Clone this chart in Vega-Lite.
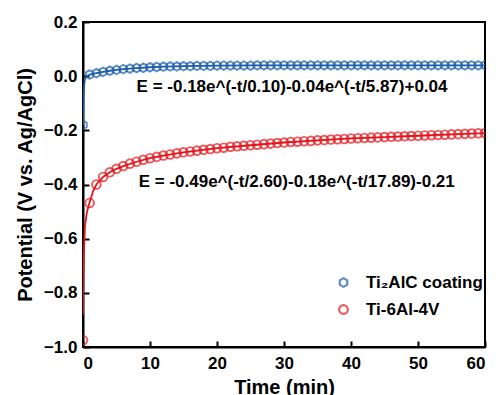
{
  "$schema": "https://vega.github.io/schema/vega-lite/v6.json",
  "autosize": "none",
  "width": 402,
  "height": 325,
  "padding": {"left": 83, "top": 22, "right": 11, "bottom": 48},
  "background": "white",
  "config": {
    "view": {"stroke": "black", "strokeWidth": 2},
    "font": "Liberation Sans"
  },
  "datasets": {
    "markers": [
      {"t": 0, "E": -0.18, "series": "Ti₂AlC coating"},
      {"t": 1, "E": 0.006, "series": "Ti₂AlC coating"},
      {"t": 2, "E": 0.011, "series": "Ti₂AlC coating"},
      {"t": 3, "E": 0.016, "series": "Ti₂AlC coating"},
      {"t": 4, "E": 0.020, "series": "Ti₂AlC coating"},
      {"t": 5, "E": 0.023, "series": "Ti₂AlC coating"},
      {"t": 6, "E": 0.026, "series": "Ti₂AlC coating"},
      {"t": 7, "E": 0.028, "series": "Ti₂AlC coating"},
      {"t": 8, "E": 0.030, "series": "Ti₂AlC coating"},
      {"t": 9, "E": 0.031, "series": "Ti₂AlC coating"},
      {"t": 10, "E": 0.033, "series": "Ti₂AlC coating"},
      {"t": 11, "E": 0.034, "series": "Ti₂AlC coating"},
      {"t": 12, "E": 0.035, "series": "Ti₂AlC coating"},
      {"t": 13, "E": 0.036, "series": "Ti₂AlC coating"},
      {"t": 14, "E": 0.036, "series": "Ti₂AlC coating"},
      {"t": 15, "E": 0.037, "series": "Ti₂AlC coating"},
      {"t": 16, "E": 0.037, "series": "Ti₂AlC coating"},
      {"t": 17, "E": 0.038, "series": "Ti₂AlC coating"},
      {"t": 18, "E": 0.038, "series": "Ti₂AlC coating"},
      {"t": 19, "E": 0.038, "series": "Ti₂AlC coating"},
      {"t": 20, "E": 0.039, "series": "Ti₂AlC coating"},
      {"t": 21, "E": 0.039, "series": "Ti₂AlC coating"},
      {"t": 22, "E": 0.039, "series": "Ti₂AlC coating"},
      {"t": 23, "E": 0.039, "series": "Ti₂AlC coating"},
      {"t": 24, "E": 0.039, "series": "Ti₂AlC coating"},
      {"t": 25, "E": 0.039, "series": "Ti₂AlC coating"},
      {"t": 26, "E": 0.040, "series": "Ti₂AlC coating"},
      {"t": 27, "E": 0.040, "series": "Ti₂AlC coating"},
      {"t": 28, "E": 0.040, "series": "Ti₂AlC coating"},
      {"t": 29, "E": 0.040, "series": "Ti₂AlC coating"},
      {"t": 30, "E": 0.040, "series": "Ti₂AlC coating"},
      {"t": 31, "E": 0.040, "series": "Ti₂AlC coating"},
      {"t": 32, "E": 0.040, "series": "Ti₂AlC coating"},
      {"t": 33, "E": 0.040, "series": "Ti₂AlC coating"},
      {"t": 34, "E": 0.040, "series": "Ti₂AlC coating"},
      {"t": 35, "E": 0.040, "series": "Ti₂AlC coating"},
      {"t": 36, "E": 0.040, "series": "Ti₂AlC coating"},
      {"t": 37, "E": 0.040, "series": "Ti₂AlC coating"},
      {"t": 38, "E": 0.040, "series": "Ti₂AlC coating"},
      {"t": 39, "E": 0.040, "series": "Ti₂AlC coating"},
      {"t": 40, "E": 0.040, "series": "Ti₂AlC coating"},
      {"t": 41, "E": 0.040, "series": "Ti₂AlC coating"},
      {"t": 42, "E": 0.040, "series": "Ti₂AlC coating"},
      {"t": 43, "E": 0.040, "series": "Ti₂AlC coating"},
      {"t": 44, "E": 0.040, "series": "Ti₂AlC coating"},
      {"t": 45, "E": 0.040, "series": "Ti₂AlC coating"},
      {"t": 46, "E": 0.040, "series": "Ti₂AlC coating"},
      {"t": 47, "E": 0.040, "series": "Ti₂AlC coating"},
      {"t": 48, "E": 0.040, "series": "Ti₂AlC coating"},
      {"t": 49, "E": 0.040, "series": "Ti₂AlC coating"},
      {"t": 50, "E": 0.040, "series": "Ti₂AlC coating"},
      {"t": 51, "E": 0.040, "series": "Ti₂AlC coating"},
      {"t": 52, "E": 0.040, "series": "Ti₂AlC coating"},
      {"t": 53, "E": 0.040, "series": "Ti₂AlC coating"},
      {"t": 54, "E": 0.040, "series": "Ti₂AlC coating"},
      {"t": 55, "E": 0.040, "series": "Ti₂AlC coating"},
      {"t": 56, "E": 0.040, "series": "Ti₂AlC coating"},
      {"t": 57, "E": 0.040, "series": "Ti₂AlC coating"},
      {"t": 58, "E": 0.040, "series": "Ti₂AlC coating"},
      {"t": 59, "E": 0.040, "series": "Ti₂AlC coating"},
      {"t": 60, "E": 0.040, "series": "Ti₂AlC coating"},
      {"t": 0, "E": -0.975, "series": "Ti-6Al-4V"},
      {"t": 1, "E": -0.468, "series": "Ti-6Al-4V"},
      {"t": 2, "E": -0.400, "series": "Ti-6Al-4V"},
      {"t": 3, "E": -0.372, "series": "Ti-6Al-4V"},
      {"t": 4, "E": -0.355, "series": "Ti-6Al-4V"},
      {"t": 5, "E": -0.342, "series": "Ti-6Al-4V"},
      {"t": 6, "E": -0.332, "series": "Ti-6Al-4V"},
      {"t": 7, "E": -0.323, "series": "Ti-6Al-4V"},
      {"t": 8, "E": -0.316, "series": "Ti-6Al-4V"},
      {"t": 9, "E": -0.309, "series": "Ti-6Al-4V"},
      {"t": 10, "E": -0.303, "series": "Ti-6Al-4V"},
      {"t": 11, "E": -0.298, "series": "Ti-6Al-4V"},
      {"t": 12, "E": -0.293, "series": "Ti-6Al-4V"},
      {"t": 13, "E": -0.289, "series": "Ti-6Al-4V"},
      {"t": 14, "E": -0.285, "series": "Ti-6Al-4V"},
      {"t": 15, "E": -0.281, "series": "Ti-6Al-4V"},
      {"t": 16, "E": -0.278, "series": "Ti-6Al-4V"},
      {"t": 17, "E": -0.275, "series": "Ti-6Al-4V"},
      {"t": 18, "E": -0.272, "series": "Ti-6Al-4V"},
      {"t": 19, "E": -0.269, "series": "Ti-6Al-4V"},
      {"t": 20, "E": -0.266, "series": "Ti-6Al-4V"},
      {"t": 21, "E": -0.264, "series": "Ti-6Al-4V"},
      {"t": 22, "E": -0.261, "series": "Ti-6Al-4V"},
      {"t": 23, "E": -0.259, "series": "Ti-6Al-4V"},
      {"t": 24, "E": -0.257, "series": "Ti-6Al-4V"},
      {"t": 25, "E": -0.255, "series": "Ti-6Al-4V"},
      {"t": 26, "E": -0.253, "series": "Ti-6Al-4V"},
      {"t": 27, "E": -0.251, "series": "Ti-6Al-4V"},
      {"t": 28, "E": -0.249, "series": "Ti-6Al-4V"},
      {"t": 29, "E": -0.247, "series": "Ti-6Al-4V"},
      {"t": 30, "E": -0.245, "series": "Ti-6Al-4V"},
      {"t": 31, "E": -0.243, "series": "Ti-6Al-4V"},
      {"t": 32, "E": -0.242, "series": "Ti-6Al-4V"},
      {"t": 33, "E": -0.240, "series": "Ti-6Al-4V"},
      {"t": 34, "E": -0.239, "series": "Ti-6Al-4V"},
      {"t": 35, "E": -0.237, "series": "Ti-6Al-4V"},
      {"t": 36, "E": -0.236, "series": "Ti-6Al-4V"},
      {"t": 37, "E": -0.234, "series": "Ti-6Al-4V"},
      {"t": 38, "E": -0.233, "series": "Ti-6Al-4V"},
      {"t": 39, "E": -0.232, "series": "Ti-6Al-4V"},
      {"t": 40, "E": -0.230, "series": "Ti-6Al-4V"},
      {"t": 41, "E": -0.229, "series": "Ti-6Al-4V"},
      {"t": 42, "E": -0.228, "series": "Ti-6Al-4V"},
      {"t": 43, "E": -0.227, "series": "Ti-6Al-4V"},
      {"t": 44, "E": -0.226, "series": "Ti-6Al-4V"},
      {"t": 45, "E": -0.225, "series": "Ti-6Al-4V"},
      {"t": 46, "E": -0.224, "series": "Ti-6Al-4V"},
      {"t": 47, "E": -0.223, "series": "Ti-6Al-4V"},
      {"t": 48, "E": -0.222, "series": "Ti-6Al-4V"},
      {"t": 49, "E": -0.221, "series": "Ti-6Al-4V"},
      {"t": 50, "E": -0.220, "series": "Ti-6Al-4V"},
      {"t": 51, "E": -0.219, "series": "Ti-6Al-4V"},
      {"t": 52, "E": -0.218, "series": "Ti-6Al-4V"},
      {"t": 53, "E": -0.217, "series": "Ti-6Al-4V"},
      {"t": 54, "E": -0.216, "series": "Ti-6Al-4V"},
      {"t": 55, "E": -0.215, "series": "Ti-6Al-4V"},
      {"t": 56, "E": -0.214, "series": "Ti-6Al-4V"},
      {"t": 57, "E": -0.213, "series": "Ti-6Al-4V"},
      {"t": 58, "E": -0.212, "series": "Ti-6Al-4V"},
      {"t": 59, "E": -0.211, "series": "Ti-6Al-4V"},
      {"t": 60, "E": -0.210, "series": "Ti-6Al-4V"}
    ],
    "fits": [
      {"t": 0, "E": -0.18, "series": "Ti₂AlC coating"},
      {"t": 0.05, "E": -0.105, "series": "Ti₂AlC coating"},
      {"t": 0.1, "E": -0.066, "series": "Ti₂AlC coating"},
      {"t": 0.2, "E": -0.027, "series": "Ti₂AlC coating"},
      {"t": 0.3, "E": -0.011, "series": "Ti₂AlC coating"},
      {"t": 0.5, "E": -0.001, "series": "Ti₂AlC coating"},
      {"t": 1, "E": 0.006, "series": "Ti₂AlC coating"},
      {"t": 2, "E": 0.011, "series": "Ti₂AlC coating"},
      {"t": 3, "E": 0.016, "series": "Ti₂AlC coating"},
      {"t": 4, "E": 0.020, "series": "Ti₂AlC coating"},
      {"t": 5, "E": 0.023, "series": "Ti₂AlC coating"},
      {"t": 6, "E": 0.026, "series": "Ti₂AlC coating"},
      {"t": 8, "E": 0.030, "series": "Ti₂AlC coating"},
      {"t": 10, "E": 0.033, "series": "Ti₂AlC coating"},
      {"t": 12, "E": 0.035, "series": "Ti₂AlC coating"},
      {"t": 15, "E": 0.037, "series": "Ti₂AlC coating"},
      {"t": 20, "E": 0.039, "series": "Ti₂AlC coating"},
      {"t": 25, "E": 0.0395, "series": "Ti₂AlC coating"},
      {"t": 30, "E": 0.040, "series": "Ti₂AlC coating"},
      {"t": 60, "E": 0.040, "series": "Ti₂AlC coating"},
      {"t": 0, "E": -0.88, "series": "Ti-6Al-4V"},
      {"t": 0.05, "E": -0.76, "series": "Ti-6Al-4V"},
      {"t": 0.15, "E": -0.64, "series": "Ti-6Al-4V"},
      {"t": 0.3, "E": -0.55, "series": "Ti-6Al-4V"},
      {"t": 0.6, "E": -0.50, "series": "Ti-6Al-4V"},
      {"t": 1, "E": -0.465, "series": "Ti-6Al-4V"},
      {"t": 1.5, "E": -0.425, "series": "Ti-6Al-4V"},
      {"t": 2, "E": -0.400, "series": "Ti-6Al-4V"},
      {"t": 3, "E": -0.372, "series": "Ti-6Al-4V"},
      {"t": 4, "E": -0.355, "series": "Ti-6Al-4V"},
      {"t": 5, "E": -0.342, "series": "Ti-6Al-4V"},
      {"t": 6, "E": -0.332, "series": "Ti-6Al-4V"},
      {"t": 8, "E": -0.316, "series": "Ti-6Al-4V"},
      {"t": 10, "E": -0.303, "series": "Ti-6Al-4V"},
      {"t": 12, "E": -0.293, "series": "Ti-6Al-4V"},
      {"t": 15, "E": -0.281, "series": "Ti-6Al-4V"},
      {"t": 20, "E": -0.266, "series": "Ti-6Al-4V"},
      {"t": 25, "E": -0.255, "series": "Ti-6Al-4V"},
      {"t": 30, "E": -0.245, "series": "Ti-6Al-4V"},
      {"t": 35, "E": -0.237, "series": "Ti-6Al-4V"},
      {"t": 40, "E": -0.230, "series": "Ti-6Al-4V"},
      {"t": 45, "E": -0.225, "series": "Ti-6Al-4V"},
      {"t": 50, "E": -0.220, "series": "Ti-6Al-4V"},
      {"t": 55, "E": -0.215, "series": "Ti-6Al-4V"},
      {"t": 60, "E": -0.210, "series": "Ti-6Al-4V"}
    ],
    "notes": [
      {"t": 31.2, "E": -0.039, "label": "E = -0.18e^(-t/0.10)-0.04e^(-t/5.87)+0.04"},
      {"t": 31.9, "E": -0.39, "label": "E = -0.49e^(-t/2.60)-0.18e^(-t/17.89)-0.21"}
    ]
  },
  "layer": [
    {
      "data": {"name": "fits"},
      "transform": [{"filter": "datum.series == 'Ti-6Al-4V'"}],
      "mark": {"type": "line", "strokeWidth": 1.8, "color": "#e5131b", "clip": true},
      "encoding": {
        "x": {
          "field": "t", "type": "quantitative",
          "scale": {"domain": [0, 60], "nice": false, "zero": false},
          "axis": {
            "title": "Time (min)",
            "values": [0, 5, 10, 15, 20, 25, 30, 35, 40, 45, 50, 55, 60],
            "labelExpr": "datum.value % 10 == 0 ? datum.label : ''",
            "grid": false,
            "domainColor": "black", "domainWidth": 2,
            "tickColor": "black", "tickWidth": 2,
            "tickSize": {"condition": {"test": "datum.value % 10 != 0", "value": -3}, "value": -6},
            "labelPadding": 14,
            "labelFont": "Liberation Sans", "labelFontWeight": "bold", "labelFontSize": 17, "labelColor": "black",
            "titleFont": "Liberation Sans", "titleFontWeight": "bold", "titleFontSize": 20, "titleColor": "black",
            "titlePadding": 6
          }
        },
        "y": {
          "field": "E", "type": "quantitative",
          "scale": {"domain": [-1.0, 0.2], "nice": false, "zero": false},
          "axis": {
            "title": "Potential (V vs. Ag/AgCl)",
            "values": [-1.0, -0.9, -0.8, -0.7, -0.6, -0.5, -0.4, -0.3, -0.2, -0.1, 0.0, 0.1, 0.2],
            "labelExpr": "abs(round(datum.value * 10)) % 2 == 0 ? format(datum.value, '.1f') : ''",
            "grid": false,
            "domainColor": "black", "domainWidth": 2,
            "tickColor": "black", "tickWidth": 2,
            "tickSize": {"condition": {"test": "abs(round(datum.value * 10)) % 2 != 0", "value": -3}, "value": -6},
            "labelPadding": 12,
            "labelFont": "Liberation Sans", "labelFontWeight": "bold", "labelFontSize": 17, "labelColor": "black",
            "titleFont": "Liberation Sans", "titleFontWeight": "bold", "titleFontSize": 20, "titleColor": "black",
            "titlePadding": 8
          }
        }
      }
    },
    {
      "data": {"name": "fits"},
      "transform": [{"filter": "datum.series == 'Ti₂AlC coating'"}],
      "mark": {"type": "line", "strokeWidth": 1.8, "color": "#1a5dab", "clip": true},
      "encoding": {
        "x": {"field": "t", "type": "quantitative"},
        "y": {"field": "E", "type": "quantitative"}
      }
    },
    {
      "data": {"name": "markers"},
      "mark": {"type": "point", "filled": false, "strokeWidth": 1.9, "clip": true},
      "encoding": {
        "x": {"field": "t", "type": "quantitative"},
        "y": {"field": "E", "type": "quantitative"},
        "color": {
          "field": "series", "type": "nominal",
          "scale": {"domain": ["Ti₂AlC coating", "Ti-6Al-4V"], "range": ["#1a5dab", "#e5131b"]},
          "legend": {
            "title": null,
            "orient": "none",
            "legendX": 252,
            "legendY": 252,
            "padding": 0,
            "labelFont": "Liberation Sans", "labelFontWeight": "bold", "labelFontSize": 17, "labelColor": "black",
            "symbolStrokeWidth": 2.2,
            "symbolSize": 75,
            "labelOffset": 14,
            "rowPadding": 8,
            "labelLimit": 300
          }
        },
        "shape": {
          "field": "series", "type": "nominal",
          "scale": {"domain": ["Ti₂AlC coating", "Ti-6Al-4V"], "range": ["M0,-1L0.866,-0.5L0.866,0.5L0,1L-0.866,0.5L-0.866,-0.5Z", "circle"]}
        },
        "size": {"value": 75}
      }
    },
    {
      "data": {"name": "notes"},
      "mark": {"type": "text", "font": "Liberation Sans", "fontWeight": "bold", "fontSize": 17, "color": "black", "align": "center", "baseline": "middle"},
      "encoding": {
        "x": {"field": "t", "type": "quantitative"},
        "y": {"field": "E", "type": "quantitative"},
        "text": {"field": "label"}
      }
    }
  ]
}
